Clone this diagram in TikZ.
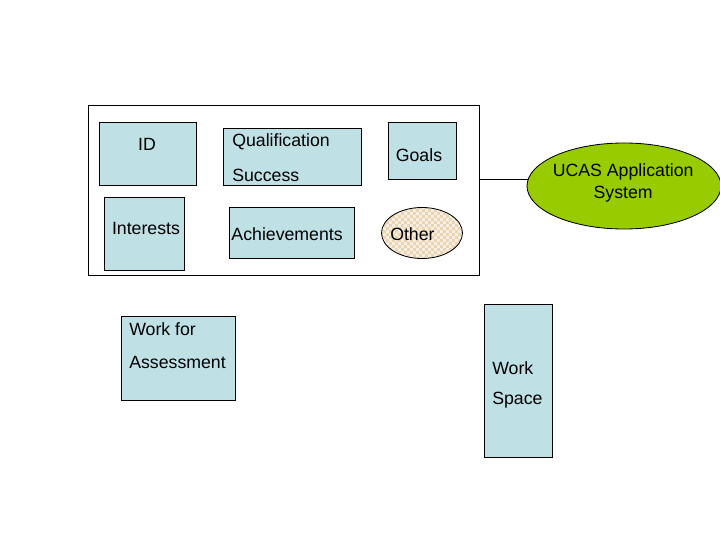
\documentclass[tikz,border=0pt]{standalone}
\usepackage{fontspec}
\setmainfont{Liberation Sans}
\usetikzlibrary{shapes.geometric,patterns}
\definecolor{boxblue}{RGB}{191,224,229}
\definecolor{ucasgreen}{RGB}{153,204,0}
\definecolor{checktan}{RGB}{234,212,178}
\pgfdeclarepatternformonly{smallcheck}{\pgfqpoint{0pt}{0pt}}{\pgfqpoint{4.2pt}{4.2pt}}{\pgfqpoint{4.2pt}{4.2pt}}{
    \pgfpathrectangle{\pgfqpoint{0pt}{0pt}}{\pgfqpoint{2.1pt}{2.1pt}}
    \pgfpathrectangle{\pgfqpoint{2.1pt}{2.1pt}}{\pgfqpoint{2.1pt}{2.1pt}}
    \pgfusepath{fill}}
\tikzset{
    box/.style={draw, line width=0.6pt, fill=boxblue, anchor=north west, inner sep=0pt},
    txt/.style={font=\fontsize{12.6}{15}\selectfont, inner sep=0pt},
}
\begin{document}
\begin{tikzpicture}
    \useasboundingbox (0,0) rectangle (18,13.5);
    % Rahmen
    \node[draw, line width=0.6pt, anchor=north west, minimum width=9.775cm, minimum height=4.25cm, inner sep=0pt] (frame) at (2.2,10.875) {};
    
    % Kaesten oben
    \node[box, minimum width=2.425cm, minimum height=1.575cm] (id) at (2.475,10.45) {};
    \node[box, minimum width=3.45cm, minimum height=1.425cm] (qual) at (5.575,10.3) {};
    \node[box, minimum width=1.7cm, minimum height=1.425cm] (goals) at (9.7,10.45) {};
    \node[txt] (idtxt) at (3.675,9.9) {ID};
    \node[txt, anchor=west] (qualtxt) at (5.8,9.95) {Qualification};
    \node[txt, anchor=west] (succtxt) at (5.8,9.125) {Success};
    \node[txt] (goalstxt) at (10.475,9.625) {Goals};
    
    % Kaesten unten
    \node[box, minimum width=2cm, minimum height=1.825cm] (int) at (2.6,8.575) {};
    \node[box, minimum width=3.125cm, minimum height=1.275cm] (ach) at (5.725,8.325) {};
    \node[draw, line width=0.6pt, ellipse, minimum width=2.025cm, minimum height=1.275cm, inner sep=0pt,
          preaction={fill=checktan!35}, pattern=smallcheck, pattern color=checktan] (other) at (10.55,7.675) {};
    \node[txt] (inttxt) at (3.65,7.8) {Interests};
    \node[txt, anchor=west] (achtxt) at (5.78,7.65) {Achievements};
    \node[txt, anchor=west] (othertxt) at (9.75,7.65) {Other};
    
    % UCAS
    \node[draw, line width=0.6pt, ellipse, fill=ucasgreen, minimum width=4.85cm, minimum height=2.15cm, inner sep=0pt] (ucas) at (15.6,8.85) {};
    \node[txt, align=center, font=\fontsize{12.6}{15.6}\selectfont] (ucastxt) at (15.58,8.92) {UCAS Application\\System};
    \draw[line width=0.6pt] (frame.east |- ucas.176) -- (ucas.176);
    
    % Arbeit
    \node[box, minimum width=2.85cm, minimum height=2.1cm] (assess) at (3.025,5.6) {};
    \node[txt, anchor=west] (worktxt) at (3.225,5.275) {Work for};
    \node[txt, anchor=west] (asstxt) at (3.225,4.45) {Assessment};
    \node[box, minimum width=1.7cm, minimum height=3.825cm] (space) at (12.1,5.9) {};
    \node[txt, anchor=west] (wtxt) at (12.3,4.3) {Work};
    \node[txt, anchor=west] (sptxt) at (12.3,3.5) {Space};
\end{tikzpicture}
\end{document}
